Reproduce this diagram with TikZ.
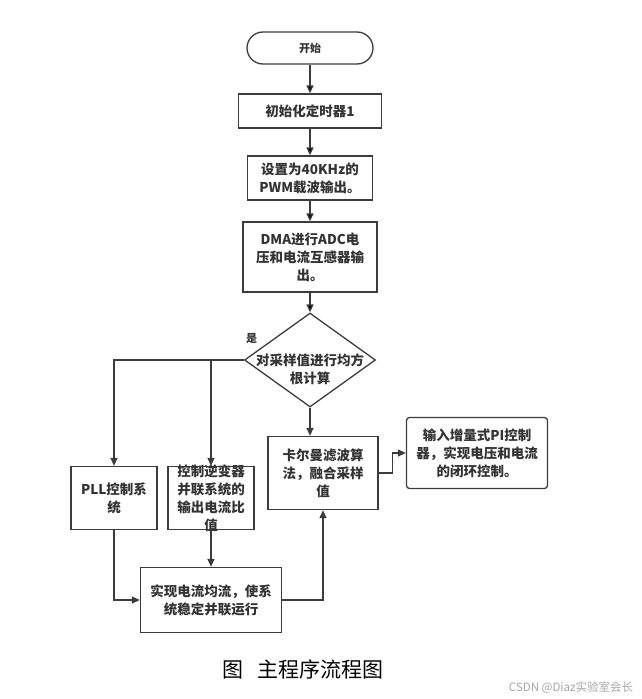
\documentclass[tikz,border=0pt]{standalone}
\usepackage{fontspec}
\setmainfont{Noto Sans CJK SC}
\usetikzlibrary{shapes.geometric, positioning, arrows.meta}
\definecolor{linegray}{HTML}{3C3C3C}
\definecolor{textgray}{HTML}{333333}
\tikzset{
  box/.style={draw=linegray, line width=1.3pt, align=center, text=textgray,
    font=\fontsize{13.5}{18}\selectfont\bfseries, inner sep=0pt},
  term/.style={box, rounded corners=16pt, minimum width=126pt, minimum height=32pt,
    font=\fontsize{11}{13}\selectfont\bfseries},
  decision/.style={draw=linegray, line width=1.3pt, shape=diamond, inner sep=0pt,
    minimum width=131pt, minimum height=94pt},
  plain/.style={align=center, text=textgray, font=\fontsize{13.5}{18}\selectfont\bfseries, inner sep=0pt},
  link/.style={draw=linegray, line width=1.3pt, ->}
}

\begin{document}
\begin{tikzpicture}[node distance=60pt, on grid, >={Triangle[length=8pt,width=7pt]}]
    \useasboundingbox (0,0) rectangle (641pt,-699pt);
    \node[term] (start) at (310pt,-48pt) {开始};
    \node[box, minimum width=143pt, minimum height=34pt, below=63pt of start] (init) {初始化定时器1};
    \node[box, minimum width=125pt, minimum height=44pt, below=67pt of init] (pwm) {设置为40KHz的\\PWM载波输出。};
    \node[box, minimum width=134pt, minimum height=70pt, below=79pt of pwm] (dma) {DMA进行ADC电\\压和电流互感器输\\出。};
    \node[decision, below=103pt of dma] (dia) {};
    \node[plain, below=9pt of dia] (diatxt) {对采样值进行均方\\根计算};
    \node[plain, font=\fontsize{11}{13}\selectfont\bfseries, above right=16pt and 2pt of dia.west] (yes) {是};

    \node[box, minimum width=110pt, minimum height=73pt, below right=113pt and 13pt of dia] (kal) {卡尔曼滤波算\\法，融合采样\\值};
    \node[box, rounded corners=3pt, minimum width=141pt, minimum height=71pt, above right=20pt and 154pt of kal] (pi) {输入增量式PI控制\\器，实现电压和电流\\的闭环控制。};
    \node[box, minimum width=86pt, minimum height=63pt, below left=138pt and 196pt of dia] (pll) {PLL控制系\\统};
    \node[box, minimum width=86pt, minimum height=63pt, inner ysep=-4pt, right=97pt of pll] (ctl) {控制逆变器\\并联系统的\\输出电流比\\值};
    \node[box, minimum width=141pt, minimum height=65pt, below=102pt of ctl] (bal) {实现电流均流，使系\\统稳定并联运行};

    % main chain
    \path[link] (start) edge (init)
        (init) edge (pwm)
        (pwm) edge (dma)
        (dma) edge (dia);

    % branches
    \draw[link] (dia.west) -| (pll.north);
    \draw[link] (ctl.north |- dia.west) -- (ctl.north);
    \draw[link] (dia.south) -- (dia.south |- kal.north);
    \draw[link] (kal.east) -- ++(14pt,0) |- (pi.west);
    \draw[link] (pll.south) |- (bal.west);
    \draw[link] (ctl.south) -- (bal.north);
    \draw[link] (bal.east) -| (kal.south);

    \node[font=\fontsize{21}{24}\selectfont, text=black] (title) at (303pt,-669pt) {图\hspace{0.7em}主程序流程图};
    \node[font=\fontsize{11.5}{13}\selectfont, text=black!35] (mark) at (571pt,-688pt) {CSDN @Diaz实验室会长};
\end{tikzpicture}
\end{document}
